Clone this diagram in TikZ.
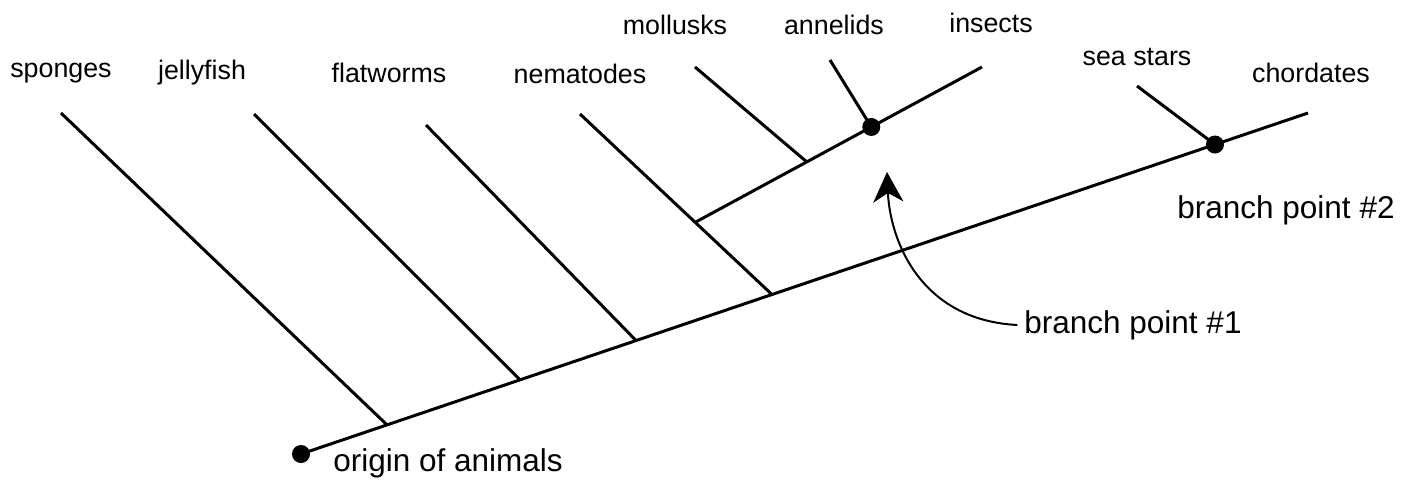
\documentclass[tikz,border=0pt]{standalone}
\usepackage{fontspec}
\setmainfont{Liberation Sans}
\usetikzlibrary{arrows.meta}

\def\branchDotRadius{4.5pt}

\begin{document}
\begin{tikzpicture}[x=0.5pt,y=-0.5pt]
            \useasboundingbox (0,0) rectangle (1414,483);
            \begin{scope}[line width=1.5pt,font=\fontsize{13.4}{15}\selectfont]

                % the main line, with the points where the side lines meet it
                \coordinate (origin) at (301,454);
                \coordinate (chordates) at (1308,113);
                \path (origin) -- (chordates)
                    coordinate [pos=0.0854] (spongesEnd)
                    coordinate [pos=0.2175] (jellyfishEnd)
                    coordinate [pos=0.3327] (flatwormsEnd)
                    coordinate [pos=0.4677] (nematodesEnd)
                    coordinate [pos=0.9076] (branchTwo);
                \draw (origin) -- (chordates);

                \coordinate (spongesTop) at (61,113);
                \coordinate (jellyfishTop) at (254,114);
                \coordinate (flatwormsTop) at (426,125);
                \coordinate (nematodesTop) at (580,114);
                \foreach \n in {sponges,jellyfish,flatworms,nematodes}{%
                        \draw (\n Top) -- (\n End);
                    }

                % the second line, off the nematodes line
                \path (nematodesTop) -- (nematodesEnd) coordinate [pos=0.6] (cladeStart);
                \coordinate (insects) at (982,67);
                \path (cladeStart) -- (insects)
                    coordinate [pos=0.389] (mollusksEnd)
                    coordinate [pos=0.614] (branchOne);
                \draw (cladeStart) -- (insects);
                \coordinate (mollusksTop) at (695,67);
                \coordinate (annelidsTop) at (830,60);
                \coordinate (seaStarsTop) at (1137,86);
                \draw (mollusksTop) -- (mollusksEnd);
                \draw (annelidsTop) -- (branchOne);
                \draw (seaStarsTop) -- (branchTwo);

                \fill (origin) circle (\branchDotRadius);
                \fill (branchOne) circle (\branchDotRadius);
                \fill (branchTwo) circle (\branchDotRadius);

                \node (spongesLabel) at (61,73) {sponges};
                \node (jellyfishLabel) at (202,73) {jellyfish};
                \node (flatwormsLabel) at (389,73) {flatworms};
                \node (nematodesLabel) at (580,74) {nematodes};
                \node (mollusksLabel) at (675,25) {mollusks};
                \node (annelidsLabel) at (834,25) {annelids};
                \node (insectsLabel) at (991,23) {insects};
                \node (seaStarsLabel) at (1137,57) {sea stars};
                \node (chordatesLabel) at (1311,73) {chordates};

            \end{scope}

            \begin{scope}[font=\fontsize{15.75}{18}\selectfont]
                \node (originLabel) at (448,463) {origin of animals};
                \node (branchTwoLabel) at (1286,210) {branch point \#2};
                \node (branchOneLabel) at (1133,325) {branch point \#1};
                \coordinate (arrowTip) at (887,172);
                \draw [-{Stealth[length=15pt,width=15pt,inset=4.5pt]}, line width=1pt]
                    (branchOneLabel.west) .. controls (920,320) and (890,240) .. (arrowTip);
            \end{scope}
        \end{tikzpicture}
\end{document}
